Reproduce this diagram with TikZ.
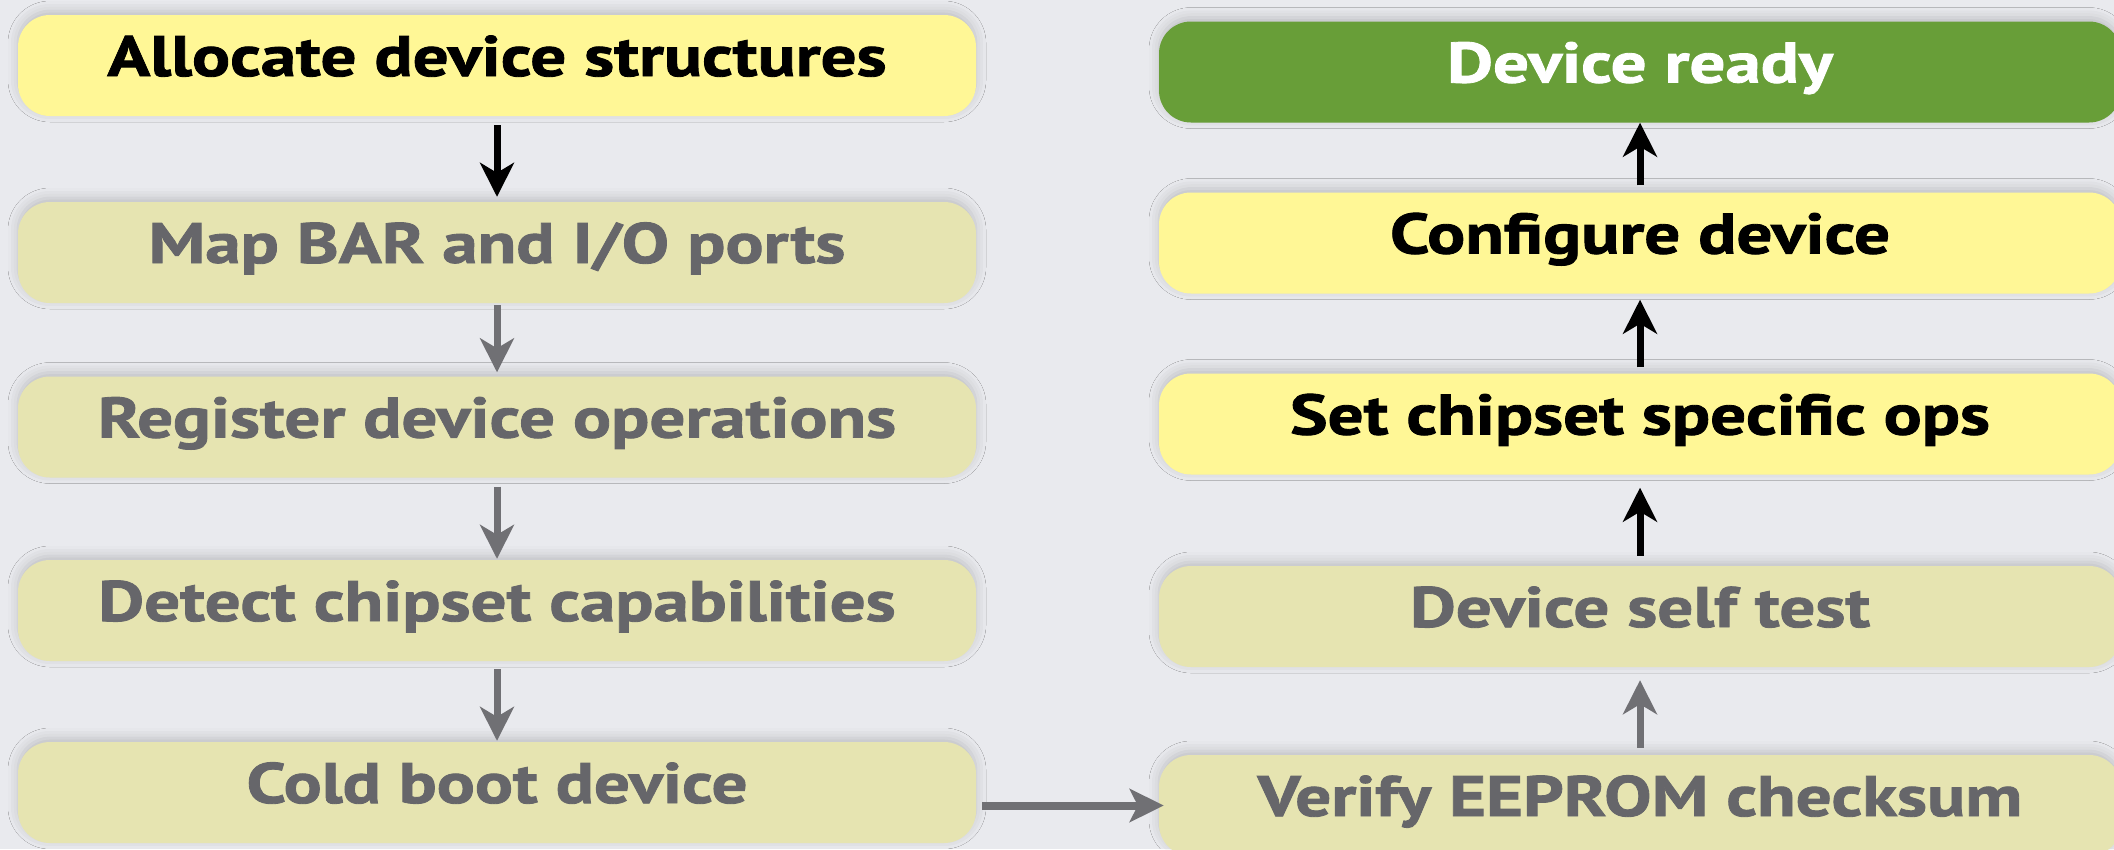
\documentclass[tikz,border=0pt]{standalone}
\usepackage{fontspec}
\setmainfont{PT Sans}[BoldFeatures={FakeStretch=1.245, FakeBold=1.5}]
\usetikzlibrary{arrows.meta,shadows.blur}

\definecolor{bgcol}{RGB}{233,234,238}
\definecolor{activeyel}{RGB}{255,247,150}
\definecolor{fadeyel}{RGB}{230,228,177}
\definecolor{readygreen}{RGB}{104,158,56}
\definecolor{fadetxt}{RGB}{102,102,106}
\definecolor{fadearrow}{RGB}{112,112,116}

\begin{document}
\begin{tikzpicture}[x=1pt,y=-1pt,
  stage/.style={rounded corners=32pt, minimum height=101pt, inner sep=0pt,
    text height=40pt, text depth=19pt,
    font=\fontsize{57}{60}\selectfont\bfseries,
    blur shadow={shadow xshift=0pt, shadow yshift=4pt,
      shadow blur radius=10pt, shadow opacity=18}},
  leftstage/.style={stage, minimum width=958pt},
  rightstage/.style={stage, minimum width=962pt},
  done/.style={fill=activeyel, text=black},
  pending/.style={fill=fadeyel, text=fadetxt},
  ready/.style={fill=readygreen, text=white},
  flowdone/.style={draw=black, line width=7pt,
    -{Stealth[length=34pt, width=34pt, inset=10pt]}},
  flowpending/.style={draw=fadearrow, line width=7pt,
    -{Stealth[length=34pt, width=34pt, inset=10pt]}},
  flowcross/.style={draw=fadearrow, line width=8pt,
    -{Stealth[length=34pt, width=33pt, inset=8pt]}}]

% canvas
\fill[bgcol] (0,0) rectangle (2114,849);
\useasboundingbox (0,0) rectangle (2114,849);

% left column: driver probe steps
\node[leftstage, done]    (b1) at (497,65.5)  {Allocate device structures};
\node[leftstage, pending] (b2) at (497,252.5) {Map BAR and I/O ports};
\node[leftstage, pending] (b3) at (497,427)   {Register device operations};
\node[leftstage, pending] (b4) at (497,610.5) {Detect chipset capabilities};
\node[leftstage, pending] (b5) at (497,792.5) {Cold boot device};

% right column: bring-up steps
\node[rightstage, ready]   (r1) at (1640,72)    {Device ready};
\node[rightstage, done]    (r2) at (1640,243)   {Configure device};
\node[rightstage, done]    (r3) at (1640,424)   {Set chipset specific ops};
\node[rightstage, pending] (r4) at (1640,616.5) {Device self test};
\node[rightstage, pending] (r5) at (1640,805.5) {Verify EEPROM checksum};

% connectors down the left column
\draw[flowdone, shorten <=9pt, shorten >=5pt]    (b1) -- (b2);
\draw[flowpending, shorten <=2pt, shorten >=4pt] (b2) -- (b3);
\draw[flowpending, shorten <=9pt, shorten >=1pt] (b3) -- (b4);
\draw[flowpending, shorten <=8pt, shorten >=1pt] (b4) -- (b5);

% across to the right column
\draw[flowcross, shorten <=6pt, shorten >=-5pt] (b5.east |- r5.west) -- (r5.west);

% connectors up the right column
\draw[flowpending, shorten <=7pt, shorten >=13pt] (r5) -- (r4);
\draw[flowdone, shorten <=10pt, shorten >=13pt]   (r4) -- (r3);
\draw[flowdone, shorten <=6pt, shorten >=6pt]     (r3) -- (r2);
\draw[flowdone, shorten <=7pt, shorten >=0pt]     (r2) -- (r1);
\end{tikzpicture}
\end{document}
